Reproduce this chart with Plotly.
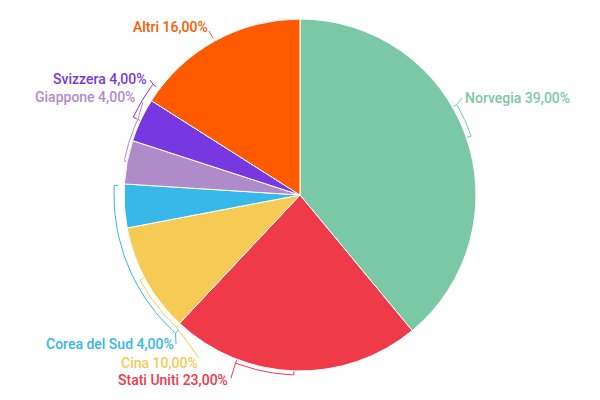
import numpy as np
import plotly.graph_objects as go

# Data
countries = ['Norvegia', 'Stati Uniti', 'Cina', 'Corea del Sud', 'Giappone', 'Svizzera', 'Altri']
shares = [39, 23, 10, 4, 4, 4, 16]
colors = ['#7BC8A6', '#EF3A4A', '#F5CA55', '#38B7E9', '#B08BCA', '#7738E1', '#FF5A00']

# Pie geometry (screen pixels); the page body adds an 8px margin, so compensate
CX, CY, R = 300, 195, 176
OFF = 8

# Label/bracket layout per slice: arc start/end (deg clockwise from top), arc radius,
# connector end angle, label anchor point and alignment
label_layout = {
    'Norvegia':      dict(arc=(60, 71), rb=181, end=60, to=(462, 98), pos=(463, 98), align='left'),
    'Stati Uniti':   dict(arc=(182, 201), rb=180, end=201, to=(231, 378), pos=(230, 380), align='right'),
    'Cina':          dict(arc=(223, 242), rb=181, end=223, to=(199, 358), pos=(200, 363), align='right'),
    'Corea del Sud': dict(arc=(222, 273), rb=186, end=222, to=(176, 344), pos=(176, 344), align='right'),
    'Giappone':      dict(arc=(281, 295), rb=179, end=295, to=(143, 102), pos=(137, 97), align='right'),
    'Svizzera':      dict(arc=(295, 307), rb=184, end=307, to=(150, 80), pos=(149, 79), align='right'),
    'Altri':         dict(arc=None, rb=179, end=331, to=(209, 31), pos=(210, 27), align='right'),
}


def polar(r, deg):
    a = np.radians(deg)
    return CX + r * np.sin(a), CY - r * np.cos(a)


fig = go.Figure()

fx, fy = CX - OFF, CY - OFF
fig.add_trace(go.Pie(
    labels=countries,
    values=shares,
    sort=False,
    direction='clockwise',
    rotation=0,
    marker=dict(colors=colors, line=dict(color='white', width=1)),
    textinfo='none',
    hoverinfo='label+percent',
    domain=dict(x=[(fx - R) / 600, (fx + R) / 600], y=[(400 - fy - R) / 400, (400 - fy + R) / 400]),
    showlegend=False,
))

annotations = []
for name, val, col in zip(countries, shares, colors):
    cfg = label_layout[name]
    if cfg['arc'] is not None:
        a0, a1 = cfg['arc']
        t = np.linspace(a0, a1, 30)
        px_, py_ = polar(cfg['rb'], t)
        ix0, iy0 = polar(cfg['rb'] - 4, a0)
        ix1, iy1 = polar(cfg['rb'] - 4, a1)
        xs = [ix0] + list(px_) + [ix1]
        ys = [iy0] + list(py_) + [iy1]
        fig.add_trace(go.Scatter(x=xs, y=ys, mode='lines', line=dict(color=col, width=1),
                                 hoverinfo='skip', showlegend=False))
    ex, ey = polar(cfg['rb'], cfg['end'])
    fig.add_trace(go.Scatter(x=[ex, cfg['to'][0]], y=[ey, cfg['to'][1]], mode='lines',
                             line=dict(color=col, width=1), hoverinfo='skip', showlegend=False))
    annotations.append(dict(
        x=cfg['pos'][0], y=cfg['pos'][1], xref='x', yref='y',
        text=f"{name} {val:.2f}%".replace('.', ','),
        showarrow=False,
        xanchor=cfg['align'], yanchor='middle',
        font=dict(family='Roboto', size=14, color=col, weight=500),
    ))

fig.update_layout(
    width=600, height=400,
    margin=dict(l=0, r=0, t=0, b=0),
    paper_bgcolor='white',
    plot_bgcolor='rgba(0,0,0,0)',
    xaxis=dict(range=[OFF, 600 + OFF], visible=False, fixedrange=True),
    yaxis=dict(range=[400 + OFF, OFF], visible=False, fixedrange=True),
    annotations=annotations,
)

fig.write_html("out.html")
